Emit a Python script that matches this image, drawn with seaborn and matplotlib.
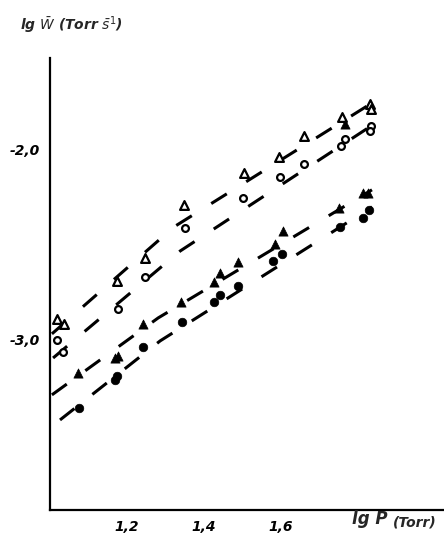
import numpy as np
import pandas as pd
import matplotlib
matplotlib.use("Agg")
import matplotlib.pyplot as plt
import seaborn as sns

# points (lg P, lg W)
open_tri_x = [1.018, 1.036, 1.174, 1.247, 1.348, 1.504, 1.595, 1.660, 1.758, 1.831, 1.834]
open_tri_y = [-2.889, -2.916, -2.689, -2.568, -2.289, -2.121, -2.037, -1.926, -1.826, -1.758, -1.784]

open_circ_x = [1.018, 1.034, 1.177, 1.247, 1.351, 1.501, 1.597, 1.660, 1.766, 1.756, 1.834, 1.831]
open_circ_y = [-3.000, -3.063, -2.837, -2.668, -2.410, -2.253, -2.142, -2.074, -1.942, -1.979, -1.874, -1.900]

fill_tri_x = [1.073, 1.169, 1.177, 1.242, 1.340, 1.426, 1.442, 1.488, 1.584, 1.605, 1.751, 1.813, 1.826, 1.766]
fill_tri_y = [-3.174, -3.095, -3.084, -2.916, -2.800, -2.695, -2.647, -2.589, -2.495, -2.426, -2.305, -2.226, -2.226, -1.863]

fill_circ_x = [1.075, 1.169, 1.174, 1.242, 1.343, 1.426, 1.442, 1.488, 1.579, 1.603, 1.753, 1.813, 1.829]
fill_circ_y = [-3.358, -3.211, -3.189, -3.037, -2.905, -2.800, -2.763, -2.716, -2.584, -2.547, -2.405, -2.358, -2.316]

# dashed curves drawn through each set (start, middle, end)
curve_open_tri_x = [1.005, 1.322, 1.836]
curve_open_tri_y = [-2.968, -2.405, -1.753]
curve_open_circ_x = [1.008, 1.338, 1.842]
curve_open_circ_y = [-3.095, -2.532, -1.863]
curve_fill_tri_x = [1.005, 1.281, 1.836]
curve_fill_tri_y = [-3.289, -2.884, -2.210]
curve_fill_circ_x = [1.026, 1.286, 1.836]
curve_fill_circ_y = [-3.421, -3.005, -2.300]

sns.set_style("white")
plt.rcParams["font.family"] = ["DejaVu Sans"]

fig = plt.figure(figsize=(4.44, 5.35), dpi=100)
ax = fig.add_axes([0.1126, 0.0467, 0.8874, 0.845])

curves = [(curve_open_tri_x, curve_open_tri_y), (curve_open_circ_x, curve_open_circ_y),
          (curve_fill_tri_x, curve_fill_tri_y), (curve_fill_circ_x, curve_fill_circ_y)]
for cx, cy in curves:
    df = pd.DataFrame({"x": cx, "y": cy})
    sns.lineplot(data=df, x="x", y="y", ax=ax, color="black", lw=2.2,
                 linestyle=(0, (6, 7.5)), estimator=None, sort=False)

sns.scatterplot(x=open_tri_x, y=open_tri_y, ax=ax, marker="^", s=40,
                facecolor="white", edgecolor="black", linewidth=1.6, zorder=3)
sns.scatterplot(x=open_circ_x, y=open_circ_y, ax=ax, marker="o", s=24,
                facecolor="white", edgecolor="black", linewidth=1.6, zorder=3)
sns.scatterplot(x=fill_tri_x, y=fill_tri_y, ax=ax, marker="^", s=44,
                color="black", edgecolor="black", linewidth=0.5, zorder=3)
sns.scatterplot(x=fill_circ_x, y=fill_circ_y, ax=ax, marker="o", s=38,
                color="black", edgecolor="black", linewidth=0.5, zorder=3)

ax.set_xlim(1.0, 2.023)
ax.set_ylim(-3.895, -1.516)
ax.set_xlabel("")
ax.set_ylabel("")
for s in ["top", "right"]:
    ax.spines[s].set_visible(False)
for s in ["left", "bottom"]:
    ax.spines[s].set_linewidth(1.6)
    ax.spines[s].set_color("black")

tfont = dict(fontsize=10, fontstyle="italic", fontweight="bold")
ax.set_xticks([1.2, 1.4, 1.6, 1.8])
ax.set_xticklabels(["1,2", "1,4", "1,6", ""], **tfont)
ax.set_yticks([-3.5, -3.0, -2.5, -2.0])
ax.set_yticklabels(["", "-3,0", "", "-2,0"], **tfont)
ax.tick_params(direction="in", length=5, width=1.4, colors="black", pad=7)

ax.text(1.785, -3.895, "lg P", transform=ax.transData, fontsize=12,
        fontstyle="italic", fontweight="bold", va="top", ha="left")
ax.annotate("(Torr)", xy=(1.89, -3.895), xycoords="data", xytext=(0, -4),
            textcoords="offset points", fontsize=10, fontstyle="italic",
            fontweight="bold", va="top", ha="left", annotation_clip=False)
fig.text(0.045, 0.953, r"lg $\bar{W}$ (Torr $\bar{s}^1$)", fontsize=10,
         fontstyle="italic", fontweight="bold", va="center", ha="left")

fig.savefig("out.png", dpi=100, facecolor="white")
